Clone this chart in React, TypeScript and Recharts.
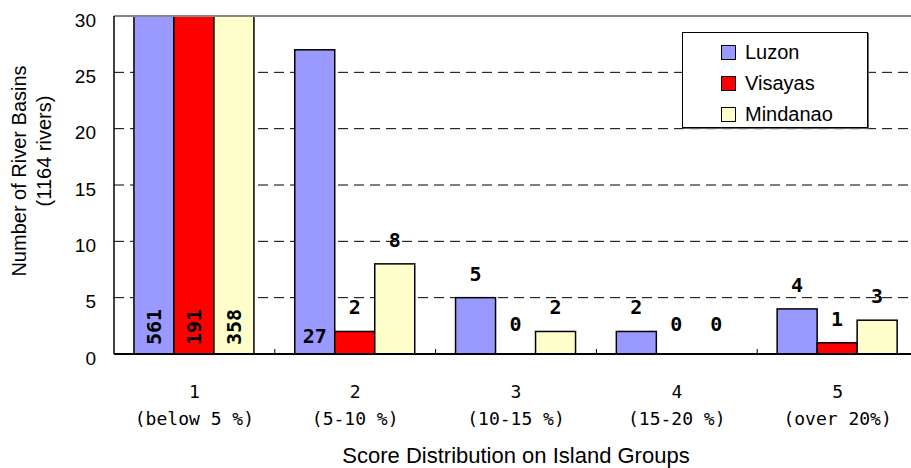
import React from "react";
import { BarChart, Bar, XAxis, YAxis, CartesianGrid, Legend, ReferenceLine, LabelList } from "recharts";

const categories = ["1", "2", "3", "4", "5"];
const rangeLabels = ["(below 5 %)", "(5-10 %)", "(10-15 %)", "(15-20 %)", "(over 20%)"];
const luzon = [561, 27, 5, 2, 4];
const visayas = [191, 2, 0, 0, 1];
const mindanao = [358, 8, 2, 0, 3];
const yTicks = [0, 5, 10, 15, 20, 25, 30];
const gridValues = [5, 10, 15, 20, 25];

const series = [
  { key: "Luzon", color: "#9999FF" },
  { key: "Visayas", color: "#FF0000" },
  { key: "Mindanao", color: "#FFFFCC" },
];

const data = categories.map((c, i) => ({
  cat: c,
  range: rangeLabels[i],
  Luzon: luzon[i],
  Visayas: visayas[i],
  Mindanao: mindanao[i],
}));

const W = 920;
const H = 468;
const M = { top: 16, right: 2, left: 54, bottom: 0 };
const Y_W = 60;
const BAND = (W - M.left - M.right - Y_W) / categories.length;
const SANS = "'Liberation Sans', Arial, sans-serif";
const MONO = "'DejaVu Sans Mono', monospace";

function XTick(props: any) {
  const { x, y, payload, index } = props;
  return (
    <g>
      {index < categories.length - 1 && (
        <line x1={x + BAND / 2} x2={x + BAND / 2} y1={y - 5} y2={y} stroke="#000" strokeWidth={1} />
      )}
      <text x={x} y={y + 38} dy="0.35em" textAnchor="middle" fontFamily={MONO} fontSize={18} fill="#000">
        {payload.value}
      </text>
      <text x={x} y={y + 65} dy="0.35em" textAnchor="middle" fontFamily={MONO} fontSize={18} fill="#000">
        {data[index]?.range}
      </text>
    </g>
  );
}

function YTick(props: any) {
  const { x, y, payload } = props;
  return (
    <text x={x} y={y + 4} dy="0.35em" textAnchor="end" fontFamily={SANS} fontSize={19} fill="#000">
      {payload.value}
    </text>
  );
}

function ValueLabel(props: any) {
  const { x, y, width, height, value } = props;
  const cx = x + width / 2;
  const bottom = y + height;
  const style = { fontFamily: MONO, fontSize: 20, fontWeight: "bold" as const, fill: "#000" };
  if (value > 30) {
    const cy = bottom - 27;
    return (
      <text x={cx} y={cy} dy="0.35em" textAnchor="middle" transform={`rotate(-90 ${cx} ${cy})`} {...style}>
        {value}
      </text>
    );
  }
  if (value > 10) {
    return (
      <text x={cx} y={bottom - 18} dy="0.35em" textAnchor="middle" {...style}>
        {value}
      </text>
    );
  }
  const top = value === 0 ? bottom - 6 : y;
  return (
    <text x={cx} y={top - 24} dy="0.35em" textAnchor="middle" {...style}>
      {value}
    </text>
  );
}

function BarShape(props: any) {
  const { x, y, width, height, fill, stroke, value } = props;
  const v = Array.isArray(value) ? value[1] - value[0] : value;
  if (!v || height <= 0.5) return null;
  return <rect x={x} y={y} width={width} height={height} fill={fill} stroke={stroke} strokeWidth={1.5} />;
}

function LegendBox() {
  return (
    <div
      style={{
        width: 184,
        height: 94,
        border: "1px solid #000",
        background: "#fff",
        boxShadow: "1px 1px 0 #666",
        position: "relative",
        fontFamily: SANS,
        fontSize: 20,
        color: "#000",
      }}
    >
      {series.map((s, i) => (
        <div
          key={s.key}
          style={{ position: "absolute", left: 38, top: 7 + i * 31, height: 24, display: "flex", alignItems: "center" }}
        >
          <span
            style={{ width: 13, height: 13, background: s.color, border: "1px solid #000", display: "inline-block", marginRight: 9 }}
          />
          <span>{s.key}</span>
        </div>
      ))}
    </div>
  );
}

function YLabel() {
  return (
    <g fontFamily={SANS} fontSize={20} fill="#000">
      <text x={19} y={171} dy="0.35em" textAnchor="middle" transform="rotate(-90 19 171)">
        Number of River Basins
      </text>
      <text x={44} y={151} dy="0.35em" textAnchor="middle" transform="rotate(-90 44 151)">
        (1164 rivers)
      </text>
    </g>
  );
}

export default function App() {
  return (
    <div style={{ position: "fixed", left: 0, top: 0, width: 911, height: 468, overflow: "hidden", background: "#fff" }}>
      <BarChart width={W} height={H} data={data} margin={M} barCategoryGap="12.4%" barGap={0}>
        <CartesianGrid vertical={false} horizontalValues={gridValues} stroke="#000" strokeDasharray="10 6" />
        <XAxis
          dataKey="cat"
          height={114}
          tickSize={0}
          tickMargin={0}
          tickLine={false}
          axisLine={{ stroke: "#000", strokeWidth: 2 }}
          tick={<XTick />}
          interval={0}
          label={{ value: "Score Distribution on Island Groups", position: "insideBottom", offset: 5, fontFamily: SANS, fontSize: 22, fill: "#000" }}
        />
        <YAxis
          width={Y_W}
          domain={[0, 30]}
          ticks={yTicks}
          allowDataOverflow
          tickLine={false}
          tickSize={0}
          tickMargin={18}
          axisLine={{ stroke: "#000", strokeWidth: 1.5 }}
          tick={<YTick />}
          label={{ content: () => <YLabel /> }}
        />
        <ReferenceLine y={30} stroke="#888" strokeWidth={2} />
        <Legend
          layout="horizontal"
          verticalAlign="middle"
          align="center"
          content={() => <LegendBox />}
          wrapperStyle={{ left: 682, top: 32, width: 186, height: 96 }}
        />
        {series.map((s) => (
          <Bar
            key={s.key}
            dataKey={s.key}
            fill={s.color}
            stroke="#000"
            strokeWidth={1.5}
            minPointSize={6}
            shape={<BarShape />}
            isAnimationActive={false}
          >
            <LabelList dataKey={s.key} content={<ValueLabel />} />
          </Bar>
        ))}
      </BarChart>
    </div>
  );
}
